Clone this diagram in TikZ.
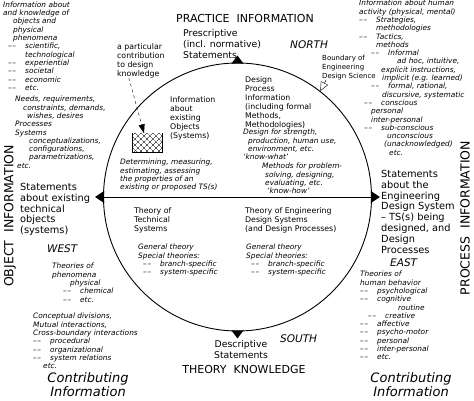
\documentclass[tikz,border=0pt]{standalone}
\usepackage{fontspec}
\setmainfont{DejaVu Sans}
\usetikzlibrary{positioning,arrows.meta,patterns.meta}
\newcommand{\dsh}{\makebox[17pt][l]{\textendash\kern0.6pt\textendash}}

\begin{document}
\begin{tikzpicture}[%
    x=1pt, y=-1pt,                          % work in pixels, y downwards
    >={Triangle[length=9pt,width=6pt]},
    node distance=2pt,
    ]
\tikzset{
  txt/.style={anchor=north west, inner sep=0pt, align=left},
  note/.style={txt, font=\fontsize{7.4}{8.3}\selectfont\itshape},
  plain/.style={txt, font=\fontsize{7.8}{9}\selectfont},
  stmt/.style={txt, font=\fontsize{9.8}{10.8}\selectfont},
  pole/.style={txt, font=\fontsize{9.3}{11}\selectfont},
  compass/.style={txt, font=\fontsize{10.5}{12}\selectfont\itshape},
  head/.style={inner sep=0pt, font=\fontsize{11}{13}\selectfont},
  side/.style={inner sep=0pt, rotate=90, font=\fontsize{12.5}{14}\selectfont},
  contribute/.style={inner sep=0pt, align=center, font=\fontsize{13}{14}\selectfont\itshape},
}
\useasboundingbox (0,0) rectangle (474,400);

% the circle of engineering design science
\node [circle, draw, line width=0.9pt, minimum size=268pt, inner sep=0pt] (disc) at (237.5,197) {};
\fill (disc.north) +(-6,1) -- +(6,1) -- +(0,-7) -- cycle;
\fill (disc.south) +(-6,-1) -- +(6,-1) -- +(0,7) -- cycle;
\fill (disc.west) +(1,-6) -- +(1,6) -- +(-8,0) -- cycle;
\fill (disc.east) +(-1,-6) -- +(-1,6) -- +(8,0) -- cycle;

% top
\node [head] (practice) at (245,18) {PRACTICE\ \ INFORMATION};
\node [pole] (prescr) at (183,29) {Prescriptive\\(incl. normative)\\Statements};
\node [compass] (north) at (290,41) {NORTH};
\node [plain, font=\fontsize{7}{9}\selectfont] (boundary) at (322,55) {Boundary of\\Engineering\\Design Science};
\node [plain] (contrib) at (117,43) {a particular\\contribution\\to design\\knowledge};

% left column
\node [note] (objnotes) at (3,1.5) {Information about\\and knowledge of\\\hspace*{10pt}objects and\\\hspace*{10pt}physical\\\hspace*{10pt}phenomena\\\hspace*{5pt}\dsh scientific,\\\hspace*{22pt}technological\\\hspace*{5pt}\dsh experiential\\\hspace*{5pt}\dsh societal\\\hspace*{5pt}\dsh economic\\\hspace*{5pt}\dsh etc.};
\node [note] (needs) at (15,96) {Needs, requirements,\\\hspace*{8pt}constraints, demands,\\\hspace*{12pt}wishes, desires\\Processes\\Systems\\\hspace*{14pt}conceptualizations,\\\hspace*{14pt}configurations,\\\hspace*{14pt}parametrizations,\\\hspace*{2pt}etc.};
\node [stmt] (objstmt) at (20,183) {Statements\\about existing\\technical\\objects\\(systems)};
\node [compass] (west) at (47,244) {WEST};
\node [note] (phentheo) at (52,263) {Theories of\\phenomena\\\hspace*{18pt}physical\\\hspace*{11pt}\dsh chemical\\\hspace*{11pt}\dsh etc.};
\node [note] (concept) at (33,313) {Conceptual divisions,\\Mutual interactions,\\Cross-boundary interactions\\\dsh procedural\\\dsh organizational\\\dsh system relations\\\hspace*{10pt}etc.};
\node [contribute] (contribL) at (88,385) {Contributing\\Information};
\node [side] (objlbl) at (10,216) {OBJECT\ \ INFORMATION};

% right column
\node [note] (humnotes) at (359,0) {Information about human\\activity (physical, mental)\\\dsh Strategies,\\\hspace*{17pt}methodologies\\\dsh Tactics,\\\hspace*{17pt}methods\\\hspace*{12pt}\dsh Informal\\\hspace*{38pt}ad hoc, intuitive,\\\hspace*{22pt}explicit instructions,\\\hspace*{23pt}implicit (e.g. learned)\\\hspace*{12pt}\dsh formal, rational,\\\hspace*{23pt}discursive, systematic\\\hspace*{5pt}\dsh conscious\\\hspace*{12pt}personal\\\hspace*{12pt}inter-personal\\\hspace*{5pt}\dsh sub-conscious\\\hspace*{28pt}unconscious\\\hspace*{25pt}(unacknowledged)\\\hspace*{30pt}etc.};
\node [stmt] (engstmt) at (381,170) {Statements\\about the\\Engineering\\Design System\\-- TS(s) being\\designed, and\\Design\\Processes};
\node [compass] (east) at (390,258) {EAST};
\node [note] (humtheo) at (360,271) {Theories of\\human behavior\\\dsh psychological\\\dsh cognitive\\\hspace*{38pt}routine\\\hspace*{8pt}\dsh creative\\\dsh affective\\\dsh psycho-motor\\\dsh personal\\\dsh inter-personal\\\dsh etc.};
\node [contribute] (contribR) at (411,385) {Contributing\\Information};
\node [side] (proclbl) at (465,218) {PROCESS\ \ INFORMATION};

% inside the circle
\node [minimum width=30pt, minimum height=19pt, inner sep=0pt,
       pattern={Lines[angle=45,distance=4pt,line width=0.35pt]},
       postaction={pattern={Lines[angle=-45,distance=4pt,line width=0.35pt]}}] (hatch) at (147,143) {};
\node [plain] (info) at (170,96) {Information\\about\\existing\\Objects\\(Systems)};
\node [note] (determ) at (120,159) {Determining, measuring,\\estimating, assessing\\the properties of an\\existing or proposed TS(s)};
\node [plain] (despro) at (245,76) {Design\\Process\\Information\\(including formal\\Methods,\\Methodologies)};
\node [note] (desfor) at (243,129) {Design for strength,\\\hspace*{5pt}production, human use,\\\hspace*{5pt}environment, etc.\\`know-what'};
\node [note] (methods) at (262,163) {Methods for problem-\\\hspace*{3pt}solving, designing,\\\hspace*{3pt}evaluating, etc.\\\hspace*{5pt}`know-how'};
\node [plain] (thtech) at (134,207) {Theory of\\Technical\\Systems};
\node [plain] (theng) at (245,207) {Theory of Engineering\\Design Systems\\(and Design Processes)};
\node [note] (gentheoL) at (138,244) {General theory\\Special theories:\\\hspace*{5pt}\dsh branch-specific\\\hspace*{5pt}\dsh system-specific};
\node [note] (gentheoR) at (246,244) {General theory\\Special theories:\\\hspace*{5pt}\dsh branch-specific\\\hspace*{5pt}\dsh system-specific};

% bottom
\node [pole, anchor=north, align=center] (descr) at (241,340) {Descriptive\\Statements};
\node [compass] (south) at (280,334) {SOUTH};
\node [head] (theory) at (244,369) {THEORY\ \ KNOWLEDGE};

%connect
\draw [line width=0.6pt] (hatch.north west) -- (hatch.south west) -- (hatch.south east) -- (hatch.north east);
\draw [->, thin, dashed] ([xshift=-12pt]contrib.south) -- ([xshift=-3pt]hatch.north);
\draw [-{Triangle[open,length=9pt,width=8pt]}, thin] ([xshift=4pt]boundary.south west) -- (disc.52);
\draw [line width=0.7pt] (disc.west) -- (disc.east);

\end{tikzpicture}
\end{document}
